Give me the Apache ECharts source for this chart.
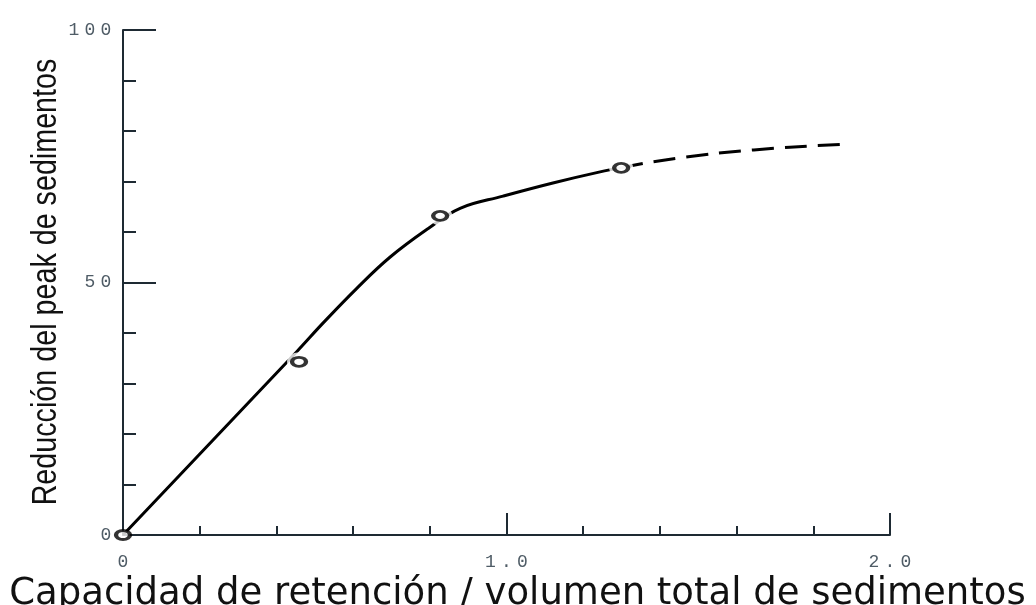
<!DOCTYPE html>
<html>
<head>
<meta charset="utf-8">
<script src="https://cdn.jsdelivr.net/npm/echarts@6/dist/echarts.min.js"></script>
<style>
  html, body { margin: 0; padding: 0; background: #fff; }
  #chart { width: 1036px; height: 605px; }
</style>
</head>
<body>
<div id="chart"></div>
<script>
// solid part of the curve
const curveX = [0, 0.453, 0.522, 0.609, 0.696, 0.796, 0.879, 0.991, 1.121, 1.244, 1.299];
const curveY = [0, 36.3, 42.0, 48.8, 55.0, 60.7, 64.7, 67.1, 69.7, 71.9, 72.7];
// dashed extension
const dashX = [1.299, 1.382, 1.551, 1.739, 1.888];
const dashY = [72.7, 73.9, 75.6, 76.8, 77.4];
// measured points (open circles)
const pointX = [0, 0.459, 0.827, 1.299];
const pointY = [0, 34.3, 63.2, 72.7];

const xName = 'Capacidad de retención / volumen total de sedimentos';
const yName = 'Reducción del peak de sedimentos';

const ink = '#000';
const axisInk = '#1e2a33';
const labelInk = '#4f5c66';

const pairs = (xs, ys) => xs.map((x, i) => [x, ys[i]]);

// old typewriter look: every digit in its own wide cell
const spaced = s => s.split('').map(c => '{d|' + c + '}').join('');
const tickRich = {
  d: { fontFamily: 'Liberation Mono', fontSize: 18, color: labelInk, width: 16, align: 'center' }
};

const chart = echarts.init(document.getElementById('chart'));

chart.setOption({
  backgroundColor: '#fff',
  animation: false,
  grid: { left: 123, right: 146, top: 30, bottom: 70, outerBoundsMode: 'none' },
  xAxis: {
    type: 'value',
    min: 0,
    max: 2,
    interval: 1,
    name: xName,
    nameLocation: 'middle',
    nameGap: 25,
    nameTextStyle: {
      fontFamily: 'DejaVu Sans',
      fontSize: 37,
      color: '#111',
      padding: [0, 0, 0, 22]
    },
    axisLine: { lineStyle: { color: axisInk, width: 2 } },
    axisTick: { inside: true, length: 22, lineStyle: { color: axisInk, width: 2 } },
    minorTick: { show: true, splitNumber: 5, length: 9, lineStyle: { color: axisInk, width: 2 } },
    splitLine: { show: false },
    axisLabel: {
      margin: 18,
      formatter: v => spaced(v === 0 ? '0' : v.toFixed(1)),
      rich: tickRich
    }
  },
  yAxis: {
    type: 'value',
    min: 0,
    max: 100,
    interval: 50,
    axisLine: { show: true, lineStyle: { color: axisInk, width: 2 } },
    axisTick: { show: true, inside: true, length: 33, lineStyle: { color: axisInk, width: 2 } },
    minorTick: { show: true, splitNumber: 5, length: 13, lineStyle: { color: axisInk, width: 2 } },
    splitLine: { show: false },
    axisLabel: {
      margin: 9,
      formatter: v => spaced(String(v)),
      rich: tickRich
    }
  },
  graphic: [
    {
      // y title is set in a narrow face in the original, so squeeze it
      type: 'text',
      x: 46,
      y: 282,
      rotation: Math.PI / 2,
      scaleX: 0.82,
      style: {
        text: yName,
        font: '35px "Liberation Sans", Arial, sans-serif',
        fill: '#111',
        textAlign: 'center',
        textVerticalAlign: 'middle'
      }
    }
  ],
  series: [
    {
      type: 'line',
      data: pairs(curveX, curveY),
      smooth: 0.4,
      showSymbol: false,
      z: 2,
      lineStyle: { color: ink, width: 3 }
    },
    {
      type: 'line',
      data: pairs(dashX, dashY),
      smooth: 0.3,
      showSymbol: false,
      z: 2,
      lineStyle: { color: ink, width: 3, type: [22, 11] }
    },
    {
      // white gap round the circles
      type: 'scatter',
      data: pairs(pointX.slice(1), pointY.slice(1)),
      symbol: 'circle',
      symbolSize: [24, 19],
      z: 3,
      itemStyle: { color: '#fff' }
    },
    {
      type: 'scatter',
      data: pairs(pointX, pointY),
      symbol: 'circle',
      symbolSize: [14, 9],
      z: 4,
      itemStyle: { color: '#fff', borderColor: ink, borderWidth: 3.5 }
    }
  ]
});
</script>
</body>
</html>
